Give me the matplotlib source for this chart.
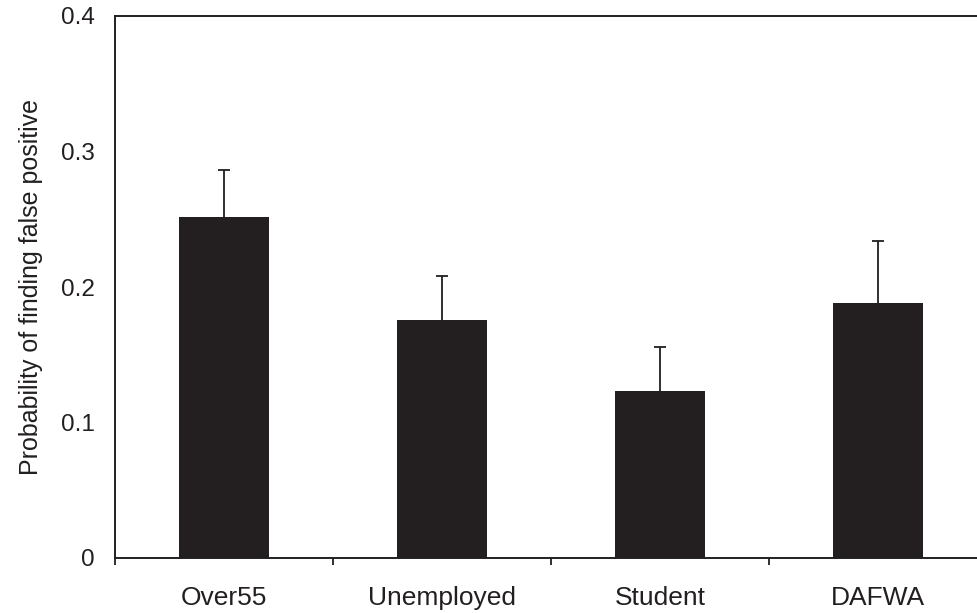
import matplotlib
matplotlib.use("Agg")
import matplotlib.pyplot as plt
import numpy as np

categories = ["Over55", "Unemployed", "Student", "DAFWA"]
values = [0.252, 0.176, 0.123, 0.188]
errors = [0.034, 0.032, 0.033, 0.046]
yticks = [0, 0.1, 0.2, 0.3, 0.4]
ytick_labels = ["0", "0.1", "0.2", "0.3", "0.4"]
ylabel = "Probability of finding false positive"

plt.rcParams['font.family'] = ['Liberation Sans', 'DejaVu Sans']
ink = "#231f20"
text_col = "#231f20"

W, H = 978, 613
fig = plt.figure(figsize=(W / 100, H / 100), dpi=100)
left, right, top, bottom = 115, 987, 16, 558
ax = fig.add_axes([left / W, 1 - bottom / H, (right - left) / W, (bottom - top) / H])

x = np.arange(len(categories))
ax.bar(x, values, width=0.41, color=ink, edgecolor=ink, linewidth=0, zorder=2)
eb = ax.errorbar(x, values, yerr=[np.zeros(len(errors)), errors], fmt="none",
                 ecolor=ink, elinewidth=1.3, capsize=4, capthick=1.3, zorder=3)
# hide the lower caps (one-sided error bars)
eb[1][0].set_visible(False)

ax.set_xlim(-0.5, len(categories) - 0.5)
ax.set_ylim(0, 0.4)

ax.set_xticks(x)
ax.set_xticklabels(categories, fontsize=19, color=text_col)
ax.set_xticks(np.arange(-0.5, len(categories), 1.0), minor=True)
ax.tick_params(axis="x", which="major", length=0, pad=20)
ax.tick_params(axis="x", which="minor", length=5, width=1.3, color=ink, direction="out")

ax.set_yticks(yticks)
ax.set_yticklabels(ytick_labels, fontsize=17.5, color=text_col)
ax.tick_params(axis="y", which="both", length=0, pad=14.4)

ax.set_ylabel(ylabel, fontsize=18, color=text_col)
ax.yaxis.label.set_va("center")
ax.yaxis.set_label_coords((31 - left) / (right - left), 0.5)

for side in ["left", "bottom", "top", "right"]:
    ax.spines[side].set_color(ink)
    ax.spines[side].set_linewidth(1.4)

fig.savefig("out.png", dpi=100)
